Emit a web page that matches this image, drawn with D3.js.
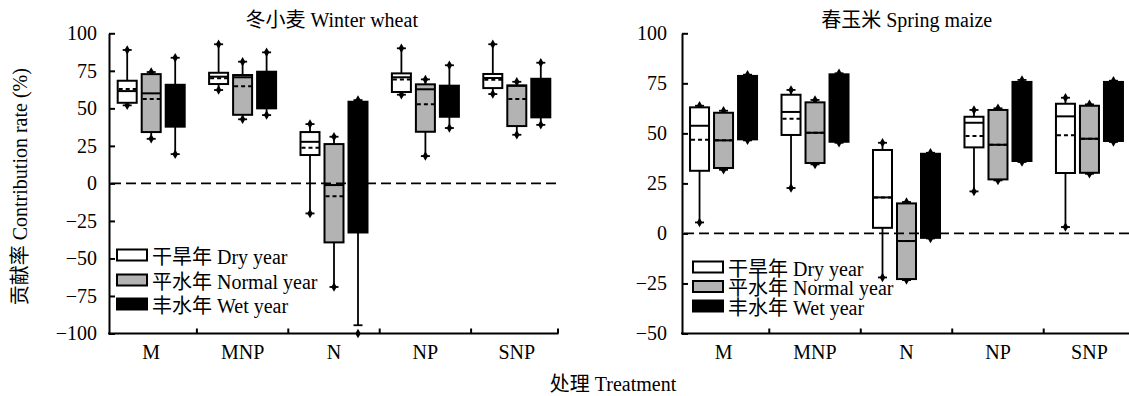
<!DOCTYPE html>
<html>
<head>
<meta charset="utf-8">
<script src="https://cdn.jsdelivr.net/npm/d3@7"></script>
<style>
  body { margin: 0; background: #fff; }
  text { font-family: "Liberation Serif", "Noto Sans CJK SC", serif; fill: #000; }
</style>
</head>
<body>
<div id="chart"></div>
<script>
// categories
var treatments = ["M", "MNP", "N", "NP", "SNP"];
var yearNames = ["干旱年 Dry year", "平水年 Normal year", "丰水年 Wet year"];
var yearFills = ["#ffffff", "#b3b3b3", "#000000"];

// box stats per treatment: [low whisker, q1, median, q3, high whisker, mean]
var wheatDry = [
    [52, 53.7, 61.5, 68.4, 88.9, 62.9],
    [62.2, 66.2, 71.1, 73.7, 92.7, 70.0],
    [-20, 18.9, 27.7, 34.2, 39.5, 23.7],
    [59.1, 60.9, 70.7, 73.3, 90, 69.3],
    [59.5, 63.5, 70.2, 72.9, 92.7, 69.0]
];
var wheatNormal = [
    [29.7, 34.2, 60, 72.8, 74.2, 56.2],
    [42.7, 45.7, 70.7, 72.2, 81.1, 64.7],
    [-69, -39.3, -1.1, 26.2, 31.1, -8.5],
    [18.2, 34.4, 62.7, 66, 69.3, 52.7],
    [32.4, 38.2, 65, 65.3, 67.7, 56.2]
];
var wheatWet = [
    [19.5, 37.8, 50, 65.7, 83.7, 50],
    [45.5, 50, 62, 74.4, 87.3, 62],
    [-94.5, -32.7, 20, 54.4, 55.5, 20],
    [36.9, 44.4, 55, 65.1, 78.7, 55],
    [39, 44, 55, 69.7, 80.4, 55]
];
var maizeDry = [
    [5.5, 31.3, 53.8, 63, 63.8, 46.8],
    [22.7, 49.2, 60.7, 69.3, 71.7, 57.3],
    [-22, 2.8, 18, 41.7, 45.3, 18],
    [21, 43, 55.3, 58.3, 61.7, 48.7],
    [3.2, 30.2, 58.5, 64.8, 67.8, 49]
];
var maizeNormal = [
    [31.8, 32.7, 46.5, 60.3, 61.3, 46.5],
    [34.5, 35.2, 50.3, 65.5, 66.7, 50.3],
    [-23.3, -22.8, -3.8, 15, 15.7, -3.8],
    [26.5, 27, 44.3, 61.7, 62.5, 44.3],
    [29.8, 30.3, 47.3, 63.8, 64.5, 47.3]
];
var maizeWet = [
    [46.5, 47, 62, 78.7, 79.3, 62],
    [45.3, 45.8, 62, 79.5, 80, 62],
    [-2.5, -2.2, 18, 39.8, 40.3, 18],
    [35.7, 36.2, 55, 75.7, 76.7, 55],
    [45.7, 46.2, 60, 75.7, 76.3, 60]
];
// points outside whiskers: [treatment, year index, value]
var wheatOutliers = [["N", 2, -100]];
var maizeOutliers = [];

var wheatTicks = [100, 75, 50, 25, 0, -25, -50, -75, -100];
var maizeTicks = [100, 75, 50, 25, 0, -25, -50];

var svgWidth = 1129;
var svgHeight = 396;

var svg = d3.select("#chart")
    .append("svg")
    .attr("width", svgWidth)
    .attr("height", svgHeight);

var yTop = 33.3;
var yBottom = 333.5;

function drawPanel(opts) {
    var g = svg.append("g");

    var x = d3.scaleBand()
        .domain(treatments)
        .range(opts.xRange)
        .padding(0);

    var y = d3.scaleLinear()
        .domain(opts.yDomain)
        .range([yBottom, yTop]);

    // y axis with inward ticks
    var yAxis = d3.axisLeft(y)
        .tickValues(opts.ticks)
        .tickSizeInner(-6)
        .tickSizeOuter(0)
        .tickPadding(opts.tickPad);

    var yG = g.append("g")
        .attr("transform", `translate(${opts.axisX},0)`)
        .call(yAxis);
    yG.select(".domain").attr("stroke-width", 2).attr("stroke", "#000");
    yG.selectAll(".tick line").attr("stroke-width", 2).attr("stroke", "#000");
    yG.selectAll(".tick text")
        .style("font-size", "20px")
        .style("font-family", "Liberation Serif")
        .attr("fill", "#000");

    // x axis line and ticks at band borders
    g.append("line")
        .attr("x1", opts.axisX - 1).attr("x2", opts.xEnd)
        .attr("y1", yBottom).attr("y2", yBottom)
        .attr("stroke", "#000").attr("stroke-width", 2);

    var tickXs = treatments.slice(1).map(d => x(d));
    if (opts.endTick) tickXs.push(x.range()[1] - 4.5);
    g.selectAll(".xtick")
        .data(tickXs)
        .enter().append("line")
        .attr("x1", d => d).attr("x2", d => d)
        .attr("y1", yBottom).attr("y2", yBottom - 5)
        .attr("stroke", "#000").attr("stroke-width", 2);

    g.selectAll(".xlabel")
        .data(treatments)
        .enter().append("text")
        .attr("x", d => x(d) + x.bandwidth() / 2)
        .attr("y", 359)
        .attr("text-anchor", "middle")
        .style("font-size", "20px")
        .text(d => d);

    // title
    g.append("text")
        .attr("x", opts.titleX)
        .attr("y", 27)
        .attr("text-anchor", "middle")
        .style("font-size", "20px")
        .text(opts.title);

    // boxes
    var boxW = 19;
    var offsets = [-24, 0, 24];
    opts.series.forEach(function(rows, si) {
        rows.forEach(function(r, ti) {
            var t = treatments[ti];
            var cx = x(t) + x.bandwidth() / 2 + offsets[si];
            var lo = r[0], q1 = r[1], med = r[2], q3 = r[3], hi = r[4], mean = r[5];
            var outs = opts.outliers.filter(o => o[0] === t && o[1] === si).map(o => o[2]);
            var minV = d3.min([lo].concat(outs));
            var maxV = d3.max([hi].concat(outs));
            var bg = g.append("g");

            // whiskers
            bg.append("line")
                .attr("x1", cx).attr("x2", cx)
                .attr("y1", y(hi)).attr("y2", y(q3))
                .attr("stroke", "#000").attr("stroke-width", 1.8);
            bg.append("line")
                .attr("x1", cx).attr("x2", cx)
                .attr("y1", y(q1)).attr("y2", y(lo))
                .attr("stroke", "#000").attr("stroke-width", 1.8);
            [lo, hi].forEach(function(v) {
                bg.append("line")
                    .attr("x1", cx - 4.5).attr("x2", cx + 4.5)
                    .attr("y1", y(v)).attr("y2", y(v))
                    .attr("stroke", "#000").attr("stroke-width", 1.8);
            });
            // min / max markers
            [minV, maxV].forEach(function(v) {
                bg.append("path")
                    .attr("d", d3.symbol(d3.symbolDiamond).size(26))
                    .attr("transform", `translate(${cx},${y(v)})`)
                    .attr("fill", "#000");
            });

            bg.append("rect")
                .attr("x", cx - boxW / 2)
                .attr("y", y(q3))
                .attr("width", boxW)
                .attr("height", y(q1) - y(q3))
                .attr("fill", yearFills[si])
                .attr("stroke", "#000")
                .attr("stroke-width", 2);

            bg.append("line")
                .attr("x1", cx - boxW / 2).attr("x2", cx + boxW / 2)
                .attr("y1", y(med)).attr("y2", y(med))
                .attr("stroke", "#000").attr("stroke-width", 2);
            bg.append("line")
                .attr("x1", cx - boxW / 2 + 1).attr("x2", cx + boxW / 2)
                .attr("y1", y(mean)).attr("y2", y(mean))
                .attr("stroke", "#000").attr("stroke-width", 2)
                .attr("stroke-dasharray", "4,3");
        });
    });

    // zero reference line
    g.append("line")
        .attr("x1", opts.axisX + 2).attr("x2", opts.zeroEnd)
        .attr("y1", y(0)).attr("y2", y(0))
        .attr("stroke", "#000").attr("stroke-width", 1.8)
        .attr("stroke-dasharray", "10,5");

    // legend
    yearNames.forEach(function(name, i) {
        var ly = opts.legendY[i];
        g.append("rect")
            .attr("x", opts.legendX)
            .attr("y", ly)
            .attr("width", 30)
            .attr("height", 11)
            .attr("fill", yearFills[i])
            .attr("stroke", "#000")
            .attr("stroke-width", 2);
        g.append("text")
            .attr("x", opts.legendX + 35)
            .attr("y", ly + 14)
            .style("font-size", "20px")
            .text(name);
    });
}

drawPanel({
    title: "冬小麦 Winter wheat",
    titleX: 331.7,
    xRange: [105.5, 562.5],
    axisX: 109,
    xEnd: 558.5,
    endTick: true,
    zeroEnd: 558,
    yDomain: [-100, 100],
    ticks: wheatTicks,
    tickPad: 12,
    series: [wheatDry, wheatNormal, wheatWet],
    outliers: wheatOutliers,
    legendX: 117,
    legendY: [249.5, 274.5, 298.5]
});

drawPanel({
    title: "春玉米 Spring maize",
    titleX: 906.7,
    xRange: [677.8, 1135.2],
    axisX: 682,
    xEnd: 1129,
    endTick: false,
    zeroEnd: 1129,
    yDomain: [-50, 100],
    ticks: maizeTicks,
    tickPad: 15,
    series: [maizeDry, maizeNormal, maizeWet],
    outliers: maizeOutliers,
    legendX: 693,
    legendY: [261.5, 281, 300.5]
});

// shared axis labels
svg.append("text")
    .attr("transform", "translate(27,186.7) rotate(-90)")
    .attr("text-anchor", "middle")
    .style("font-size", "20px")
    .text("贡献率 Contribution rate (%)");

svg.append("text")
    .attr("x", 613)
    .attr("y", 391)
    .attr("text-anchor", "middle")
    .style("font-size", "20px")
    .text("处理 Treatment");
</script>
</body>
</html>
